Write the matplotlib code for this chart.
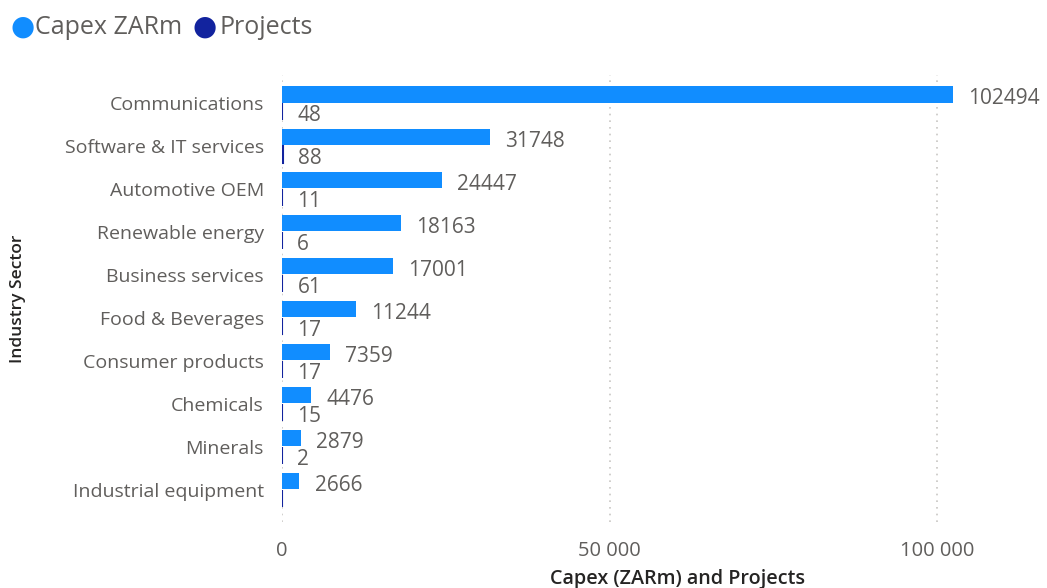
import matplotlib.pyplot as plt
import numpy as np

# Industry sectors with capital expenditure (ZAR millions) and number of projects
sectors = ["Communications", "Software & IT services", "Automotive OEM", "Renewable energy",
           "Business services", "Food & Beverages", "Consumer products", "Chemicals",
           "Minerals", "Industrial equipment"]
capex = [102494, 31748, 24447, 18163, 17001, 11244, 7359, 4476, 2879, 2666]
projects = [48, 88, 11, 6, 61, 17, 17, 15, 2, 10]
project_labels = ["48", "88", "11", "6", "61", "17", "17", "15", "2", ""]
ticks = [0, 50000, 100000]
tick_labels = ["0", "50 000", "100 000"]

capex_color = "#118DFF"
proj_color = "#12239E"
text_color = "#605E5C"

plt.rcParams['font.family'] = ['Open Sans', 'DejaVu Sans']

fig = plt.figure(figsize=(10.47, 5.88), dpi=100)
ax = fig.add_axes([282 / 1047, (588 - 522) / 588, (1040 - 282) / 1047, 447 / 588])

y = np.arange(len(sectors))
h = 0.38
ax.barh(y - 0.2, capex, height=h, color=capex_color)
ax.barh(y + 0.2, projects, height=h, color=proj_color, edgecolor=proj_color, linewidth=1.5)

for yi, v in zip(y, capex):
    ax.text(v + 2300, yi - 0.1, str(v), va="center", ha="left", fontsize=15, color=text_color)
for yi, v, lab in zip(y, projects, project_labels):
    ax.text(v + 2300, yi + 0.3, lab, va="center", ha="left", fontsize=15, color=text_color)

ax.set_xlim(0, 115700)
ax.set_ylim(len(sectors) - 0.25, -0.65)
ax.set_yticks(y)
ax.set_yticklabels(sectors, fontsize=14, color=text_color)
ax.set_xticks(ticks)
ax.set_xticklabels(tick_labels, fontsize=14.5, color=text_color)
ax.tick_params(length=0)
ax.tick_params(axis="x", pad=14)
ax.tick_params(axis="y", pad=13)

for s in ax.spines.values():
    s.set_visible(False)
ax.xaxis.grid(True, linestyle=(0, (1, 3)), color="#C8C6C4", linewidth=1.2)
ax.set_axisbelow(True)

fig.text(678 / 1047, 1 - 579 / 588, "Capex (ZARm) and Projects", ha="center", va="center",
         fontsize=14.2, color="#252423", fontweight="semibold")
fig.text(18 / 1047, 1 - 299 / 588, "Industry Sector", ha="center", va="center",
         rotation=90, fontsize=12.5, color="#252423", fontweight="semibold")

# legend built from circle markers at the top left
fig.text(10 / 1047, 1 - 27 / 588, "\u25CF", color=capex_color, fontsize=20, va="center", ha="left",
         family=['DejaVu Sans'])
fig.text(35 / 1047, 1 - 27 / 588, "Capex ZARm", color=text_color, fontsize=18, va="center", ha="left")
fig.text(192 / 1047, 1 - 27 / 588, "\u25CF", color=proj_color, fontsize=20, va="center", ha="left",
         family=['DejaVu Sans'])
fig.text(219 / 1047, 1 - 27 / 588, "Projects", color=text_color, fontsize=18, va="center", ha="left")

fig.savefig("out.png", dpi=100)
